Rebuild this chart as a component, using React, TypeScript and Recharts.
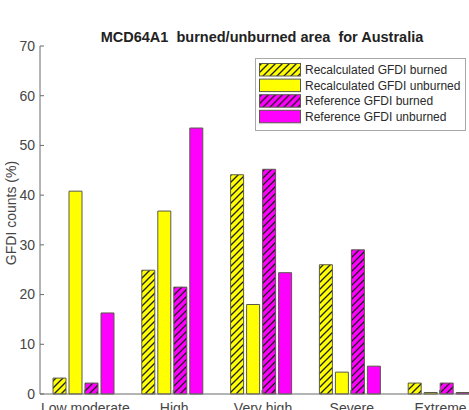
import React from "react";
import { BarChart, Bar, XAxis, YAxis } from "recharts";

const categories = ["Low moderate", "High", "Very high", "Severe", "Extreme"];
const recalcBurned = [3.2, 24.9, 44.1, 26.0, 2.2];
const recalcUnburned = [40.8, 36.8, 18.0, 4.4, 0.3];
const refBurned = [2.2, 21.5, 45.2, 29.0, 2.2];
const refUnburned = [16.3, 53.5, 24.4, 5.6, 0.3];
const yTicks = [0, 10, 20, 30, 40, 50, 60, 70];

const seriesNames = [
  "Recalculated GFDI burned",
  "Recalculated GFDI unburned",
  "Reference GFDI burned",
  "Reference GFDI unburned",
];

const FONT = '"Liberation Sans", Arial, Helvetica, sans-serif';
const AXIS = "#6a6a6a";
const TEXT = "#454545";
const EDGE = "#5a5a4a";
const YELLOW = "#ffff00";
const MAGENTA = "#ff00ff";

const data = categories.map((name, i) => ({
  name,
  recalcBurned: recalcBurned[i],
  recalcUnburned: recalcUnburned[i],
  refBurned: refBurned[i],
  refUnburned: refUnburned[i],
}));

function Hatch({ id, color }: { id: string; color: string }) {
  return (
    <pattern id={id} patternUnits="userSpaceOnUse" width={7} height={7}>
      <rect width={7} height={7} fill={color} />
      <path
        d="M-1,1 l2,-2 M0,7 l7,-7 M6,8 l2,-2"
        stroke="#1e1e1e"
        strokeWidth={1.3}
      />
    </pattern>
  );
}

function YTick(props: any) {
  const { x, y, payload } = props;
  return (
    <g>
      <line x1={x + 5} x2={x + 9} y1={y} y2={y} stroke={AXIS} />
      <text
        x={x}
        y={y}
        dy="0.35em"
        textAnchor="end"
        fontSize={14}
        fontFamily={FONT}
        fill={TEXT}
      >
        {payload.value}
      </text>
    </g>
  );
}

function BottomTick(props: any) {
  const { x, payload } = props;
  // labels sit just under the baseline of the plot (y = 394)
  return (
    <g>
      <line x1={x} x2={x} y1={394} y2={390} stroke={AXIS} />
      <text
        x={x + 1}
        y={413}
        textAnchor="middle"
        fontSize={14}
        fontFamily={FONT}
        fill={TEXT}
      >
        {payload.value}
      </text>
    </g>
  );
}

function TopTick(props: any) {
  const { x, y } = props;
  return <line x1={x} x2={x} y1={y} y2={y + 4} stroke={AXIS} />;
}

function LegendBox() {
  const fills = [
    "url(#lgHatchYellow)",
    YELLOW,
    "url(#lgHatchMagenta)",
    MAGENTA,
  ];
  return (
    <svg
      width={212}
      height={74}
      style={{ position: "absolute", left: 255, top: 58 }}
    >
      <defs>
        <Hatch id="lgHatchYellow" color={YELLOW} />
        <Hatch id="lgHatchMagenta" color={MAGENTA} />
      </defs>
      <rect x={0.5} y={0.5} width={210} height={72} fill="#fff" stroke="#a8a8a8" />
      {seriesNames.map((name, i) => (
        <g key={name} transform={`translate(0, ${5 + i * 15.6})`}>
          <rect x={4.5} y={0.5} width={41} height={12.5} fill={fills[i]} stroke={EDGE} />
          <text
            x={50}
            y={11}
            fontSize={12}
            fontFamily={FONT}
            fill="#2a2a2a"
          >
            {name}
          </text>
        </g>
      ))}
    </svg>
  );
}

export default function App() {
  return (
    <div
      style={{
        position: "relative",
        width: 469,
        height: 410,
        overflow: "hidden",
        background: "#fff",
      }}
    >
      <style>{"body { margin: 0; }"}</style>
      <BarChart
        width={490}
        height={410}
        data={data}
        margin={{ top: 46, right: 6, left: 0, bottom: 0 }}
        barCategoryGap={13}
        barGap={3}
      >
        <defs>
          <Hatch id="hatchYellow" color={YELLOW} />
          <Hatch id="hatchMagenta" color={MAGENTA} />
        </defs>
        <text
          x={262}
          y={42}
          textAnchor="middle"
          fontSize={14.5}
          fontWeight="bold"
          fontFamily={FONT}
          fill="#222"
          style={{ whiteSpace: "pre" }}
        >
          {"MCD64A1  burned/unburned area  for Australia"}
        </text>
        <g transform="translate(15.5 213) rotate(-90)">
          <text
            x={0}
            y={0}
            textAnchor="middle"
            fontSize={14}
            fontFamily={FONT}
            fill={TEXT}
          >
            GFDI counts (%)
          </text>
        </g>
        <XAxis
          dataKey="name"
          height={16}
          axisLine={{ stroke: AXIS }}
          tickLine={false}
          tickSize={0}
          tickMargin={0}
          tick={<BottomTick />}
          interval={0}
        />
        <XAxis
          xAxisId="top"
          dataKey="name"
          orientation="top"
          height={0}
          axisLine={{ stroke: AXIS }}
          tickLine={false}
          tickSize={0}
          tickMargin={0}
          tick={<TopTick />}
          interval={0}
        />
        <YAxis
          width={40}
          domain={[0, 70]}
          ticks={yTicks}
          axisLine={{ stroke: AXIS }}
          tickLine={false}
          tickSize={0}
          tickMargin={5}
          tick={<YTick />}
          interval={0}
        />
        <Bar
          dataKey="recalcBurned"
          fill="url(#hatchYellow)"
          stroke={EDGE}
          strokeWidth={1}
          isAnimationActive={false}
        />
        <Bar
          dataKey="recalcUnburned"
          fill={YELLOW}
          stroke={EDGE}
          strokeWidth={1}
          isAnimationActive={false}
        />
        <Bar
          dataKey="refBurned"
          fill="url(#hatchMagenta)"
          stroke={EDGE}
          strokeWidth={1}
          isAnimationActive={false}
        />
        <Bar
          dataKey="refUnburned"
          fill={MAGENTA}
          stroke={EDGE}
          strokeWidth={1}
          isAnimationActive={false}
        />
      </BarChart>
      <LegendBox />
    </div>
  );
}
